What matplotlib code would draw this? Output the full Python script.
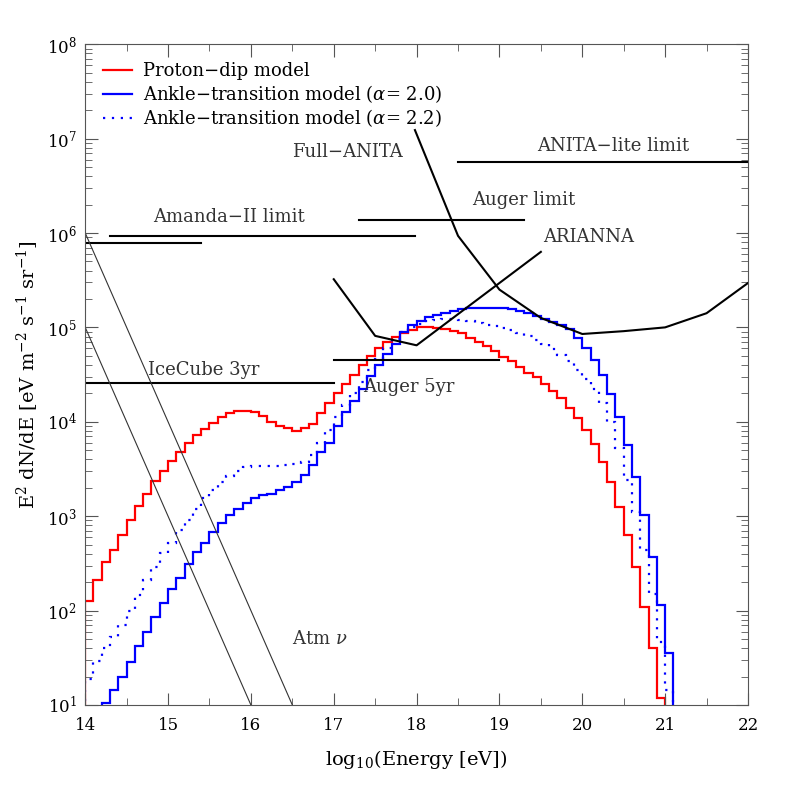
import numpy as np
import matplotlib.pyplot as plt

plt.rcParams['font.family'] = 'DejaVu Serif'
plt.rcParams['mathtext.fontset'] = 'dejavuserif'

# histogram bins: 0.1 wide in log10(E), values given as log10 of E^2 dN/dE
edges_start = 14.0
proton_dip_log = [2.1, 2.32, 2.51, 2.64, 2.8, 2.96, 3.11, 3.24, 3.37, 3.48,
                  3.58, 3.68, 3.77, 3.86, 3.92, 3.99, 4.05, 4.09, 4.11, 4.11,
                  4.1, 4.06, 4.0, 3.96, 3.93, 3.9, 3.93, 3.98, 4.09, 4.2,
                  4.3, 4.4, 4.5, 4.6, 4.7, 4.78, 4.85, 4.9, 4.94, 4.97,
                  5.0, 5.0, 4.99, 4.98, 4.96, 4.94, 4.89, 4.85, 4.8, 4.75,
                  4.69, 4.64, 4.58, 4.52, 4.47, 4.4, 4.33, 4.25, 4.15, 4.04,
                  3.91, 3.76, 3.57, 3.36, 3.1, 2.8, 2.46, 2.04, 1.6, 1.07,
                  0.5]
ankle_20_log = [0.6, 0.85, 1.02, 1.16, 1.3, 1.45, 1.62, 1.77, 1.93, 2.08,
                2.23, 2.35, 2.49, 2.62, 2.72, 2.83, 2.93, 3.01, 3.08, 3.14,
                3.19, 3.22, 3.24, 3.28, 3.31, 3.36, 3.44, 3.54, 3.68, 3.78,
                3.95, 4.1, 4.22, 4.35, 4.48, 4.6, 4.72, 4.82, 4.95, 5.02,
                5.07, 5.11, 5.13, 5.15, 5.17, 5.19, 5.2, 5.2, 5.21, 5.21,
                5.2, 5.19, 5.17, 5.15, 5.12, 5.09, 5.06, 5.03, 4.98, 4.89,
                4.78, 4.65, 4.5, 4.29, 4.05, 3.75, 3.41, 3.01, 2.57, 2.06,
                1.55, 0.8]
ankle_22_log = [1.27, 1.47, 1.6, 1.72, 1.85, 2.0, 2.16, 2.32, 2.46, 2.61,
                2.72, 2.85, 2.96, 3.08, 3.19, 3.28, 3.36, 3.43, 3.48, 3.52,
                3.53, 3.53, 3.53, 3.53, 3.54, 3.55, 3.57, 3.65, 3.77, 3.91,
                4.05, 4.18, 4.3, 4.42, 4.55, 4.67, 4.78, 4.88, 4.95, 5.0,
                5.04, 5.07, 5.08, 5.09, 5.09, 5.08, 5.07, 5.05, 5.03, 5.01,
                4.99, 4.97, 4.94, 4.91, 4.87, 4.82, 4.77, 4.71, 4.64, 4.55,
                4.45, 4.35, 4.2, 4.0, 3.72, 3.38, 3.04, 2.64, 2.18, 1.67,
                1.16]

# experimental limits (log10 E, log10 flux)
full_anita_x = [17.98, 18.5, 19.0, 19.5, 20.0, 20.5, 21.0, 21.5, 22.0]
full_anita_y = [7.09, 5.97, 5.4, 5.1, 4.93, 4.96, 5.0, 5.15, 5.47]
arianna_x = [17.0, 17.5, 18.0, 19.5]
arianna_y = [5.51, 4.91, 4.81, 5.8]
amanda_x = [14.3, 17.98]
amanda_y = [5.97, 5.97]
amanda2_x = [14.0, 15.4]
amanda2_y = [5.89, 5.89]
auger_x = [17.3, 19.3]
auger_y = [6.14, 6.14]
anita_lite_x = [18.5, 22.0]
anita_lite_y = [6.75, 6.75]
icecube_x = [14.0, 17.0]
icecube_y = [4.41, 4.41]
auger5_x = [17.0, 19.0]
auger5_y = [4.65, 4.65]
atm1_x = [14.0, 16.0]
atm1_y = [5.0, 1.0]
atm2_x = [14.0, 16.5]
atm2_y = [6.0, 1.0]

fig = plt.figure(figsize=(7.89, 7.89), dpi=100)
ax = fig.add_axes([0.108, 0.1065, 0.84, 0.8375])

def edges(n):
    return edges_start + 0.1 * np.arange(n + 1)

ax.stairs(10 ** np.array(proton_dip_log), edges(len(proton_dip_log)), color='red', lw=1.6, label='Proton\u2212dip model')
ax.stairs(10 ** np.array(ankle_20_log), edges(len(ankle_20_log)), color='blue', lw=1.6, label='Ankle\u2212transition model ($\\alpha$= 2.0)')
ax.stairs(10 ** np.array(ankle_22_log), edges(len(ankle_22_log)), color='blue', lw=1.6, ls=(0, (1, 3)), label='Ankle\u2212transition model ($\\alpha$= 2.2)')

for xs, ys in [(full_anita_x, full_anita_y), (arianna_x, arianna_y), (amanda_x, amanda_y),
               (amanda2_x, amanda2_y), (auger_x, auger_y), (anita_lite_x, anita_lite_y),
               (icecube_x, icecube_y), (auger5_x, auger5_y)]:
    ax.plot(xs, 10 ** np.array(ys), color='black', lw=1.5)
for xs, ys in [(atm1_x, atm1_y), (atm2_x, atm2_y)]:
    ax.plot(xs, 10 ** np.array(ys), color='#333333', lw=0.8)

fs = 13
ax.text(16.5, 10 ** 6.8, 'Full\u2212ANITA', fontsize=fs, color='#333333')
ax.text(19.45, 10 ** 6.87, 'ANITA\u2212lite limit', fontsize=fs, color='#333333')
ax.text(18.67, 10 ** 6.3, 'Auger limit', fontsize=fs, color='#333333')
ax.text(14.82, 10 ** 6.12, 'Amanda\u2212II limit', fontsize=fs, color='#333333')
ax.text(19.53, 10 ** 5.9, 'ARIANNA', fontsize=fs, color='#333333')
ax.text(14.76, 10 ** 4.5, 'IceCube 3yr', fontsize=fs, color='#333333')
ax.text(17.35, 10 ** 4.32, 'Auger 5yr', fontsize=fs, color='#333333')
ax.text(16.5, 10 ** 1.65, 'Atm $\\nu$', fontsize=fs, color='#333333')

ax.set_yscale('log')
ax.set_xlim(14, 22)
ax.set_ylim(10, 1e8)
ax.set_xticks(np.arange(14, 23, 1))
ax.set_xticks(np.arange(14, 22.01, 0.5), minor=True)
ax.tick_params(which='both', direction='in', top=True, right=True, labelsize=12, color='#555555')
ax.tick_params(which='major', length=9)
ax.tick_params(which='minor', length=5)
ax.tick_params(axis='x', pad=9)
ax.tick_params(axis='y', pad=6)
for s in ax.spines.values():
    s.set_color('#555555')
ax.set_xlabel('log$_{10}$(Energy [eV])', fontsize=14, labelpad=10)
ax.set_ylabel('E$^2$ dN/dE [eV m$^{-2}$ s$^{-1}$ sr$^{-1}$]', fontsize=14)
ax.legend(loc='upper left', frameon=False, fontsize=13, handlelength=1.6,
          labelspacing=0.15, borderaxespad=0.6, handletextpad=0.6)

plt.savefig('out.png')
